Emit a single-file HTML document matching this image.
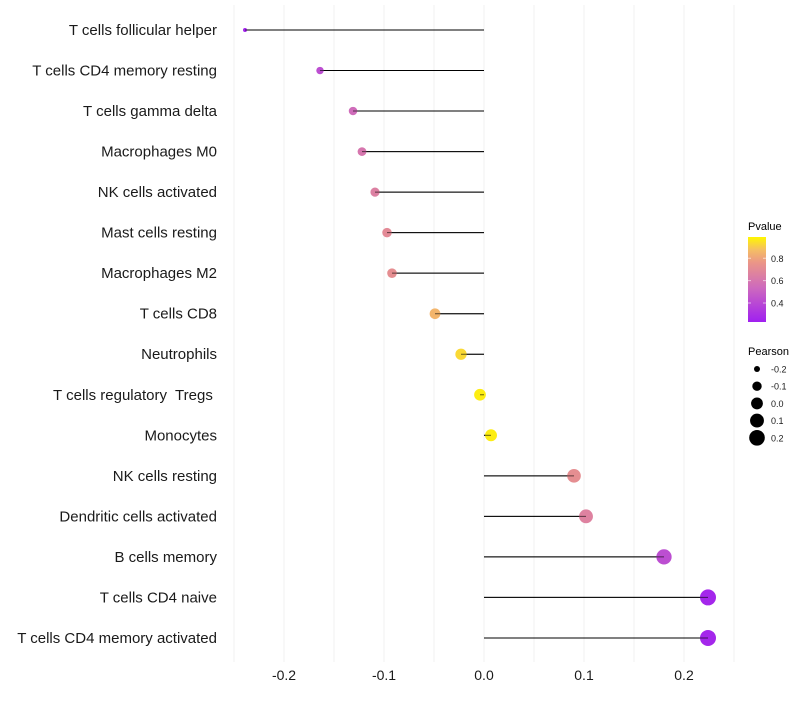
<!DOCTYPE html>
<html><head><meta charset="utf-8"><style>
body{margin:0;background:#fff;font-family:"Liberation Sans",sans-serif}
text{white-space:pre}
</style></head><body>
<svg id="c" width="800" height="700"></svg>
<script>
const categories=["T cells follicular helper","T cells CD4 memory resting","T cells gamma delta","Macrophages M0","NK cells activated","Mast cells resting","Macrophages M2","T cells CD8","Neutrophils","T cells regulatory  Tregs ","Monocytes","NK cells resting","Dendritic cells activated","B cells memory","T cells CD4 naive","T cells CD4 memory activated"];
const pearson=[-0.239,-0.164,-0.131,-0.122,-0.109,-0.097,-0.092,-0.049,-0.023,-0.004,0.007,0.090,0.102,0.180,0.224,0.224];
const pvalue=[0.25,0.42,0.55,0.6,0.65,0.7,0.72,0.85,0.93,0.97,0.97,0.72,0.66,0.42,0.26,0.26];
const xTicks=[-0.2,-0.1,0.0,0.1,0.2];
const xTickLabels=["-0.2","-0.1","0.0","0.1","0.2"];
const pTicks=[0.4,0.6,0.8];
const sizeTicks=[-0.2,-0.1,0.0,0.1,0.2];
const NS="http://www.w3.org/2000/svg";
const svg=document.getElementById('c');
function el(t,a,p){const e=document.createElementNS(NS,t);for(const k in a)e.setAttribute(k,a[k]);(p||svg).appendChild(e);return e;}
const x=v=>484+v*1000;
const y=i=>30+i*40.53;
const r=v=>Math.sqrt(Math.max(3,35+129.6*v));
const pMin=0.23,pMax=0.99;
const stops=[[0,[160,32,240]],[0.4,[205,105,190]],[0.7,[235,150,135]],[0.85,[245,190,100]],[1,[255,247,0]]];
function col(p){let t=Math.max(0,Math.min(1,(p-pMin)/(pMax-pMin)));for(let i=1;i<stops.length;i++){if(t<=stops[i][0]){const a=stops[i-1],b=stops[i];const f=(t-a[0])/(b[0]-a[0]);return 'rgb('+a[1].map((c,j)=>Math.round(c+(b[1][j]-c)*f)).join(',')+')';}}return 'rgb(255,247,0)';}
const grid=el('g',{});
for(let v=-0.25;v<=0.2501;v+=0.05){el('line',{x1:x(v),x2:x(v),y1:5,y2:662,stroke:'#f0f0f0','stroke-width':1},grid);}
categories.forEach((c,i)=>{
 const t=el('text',{x:217,y:y(i)+5,'text-anchor':'end','font-size':15,fill:'#1a1a1a'});t.textContent=c;
 
 const l=el('line',{x1:x(0),x2:x(pearson[i]),y1:y(i),y2:y(i),stroke:'#000','stroke-width':1});
 
 const d=el('circle',{cx:x(pearson[i]),cy:y(i),r:r(pearson[i]),fill:col(pvalue[i])});
 
 el('line',{x1:x(0),x2:x(pearson[i]),y1:y(i),y2:y(i),stroke:'#000','stroke-width':1,'stroke-opacity':0.6});
});
xTicks.forEach((v,i)=>{const t=el('text',{x:x(v),y:680,'text-anchor':'middle','font-size':14,fill:'#1a1a1a'});t.textContent=xTickLabels[i];
 });
const lt=el('text',{x:748,y:230,'font-size':11,fill:'#000'});lt.textContent='Pvalue';
const defs=el('defs',{});const g=el('linearGradient',{id:'pg',x1:0,y1:1,x2:0,y2:0},defs);
stops.forEach(s=>el('stop',{offset:s[0],'stop-color':'rgb('+s[1].join(',')+')'},g));
const py=p=>322-(p-pMin)/(pMax-pMin)*85;
const bar=el('rect',{x:748,y:237,width:18,height:85,fill:'url(#pg)'});
pTicks.forEach(p=>{el('line',{x1:748,x2:751,y1:py(p),y2:py(p),stroke:'#fff','stroke-opacity':0.6});el('line',{x1:763,x2:766,y1:py(p),y2:py(p),stroke:'#fff','stroke-opacity':0.6});
 const t=el('text',{x:771,y:py(p)+3.5,'font-size':9,fill:'#1a1a1a'});t.textContent=p.toFixed(1);});
const st=el('text',{x:748,y:355,'font-size':11,fill:'#000'});st.textContent='Pearson';
sizeTicks.forEach((v,i)=>{const cy=369+i*17.2;el('circle',{cx:757,cy:cy,r:r(v),fill:'#000'});
 const t=el('text',{x:771,y:cy+3.5,'font-size':9,fill:'#1a1a1a'});t.textContent=v.toFixed(1);});
</script>
</body></html>
